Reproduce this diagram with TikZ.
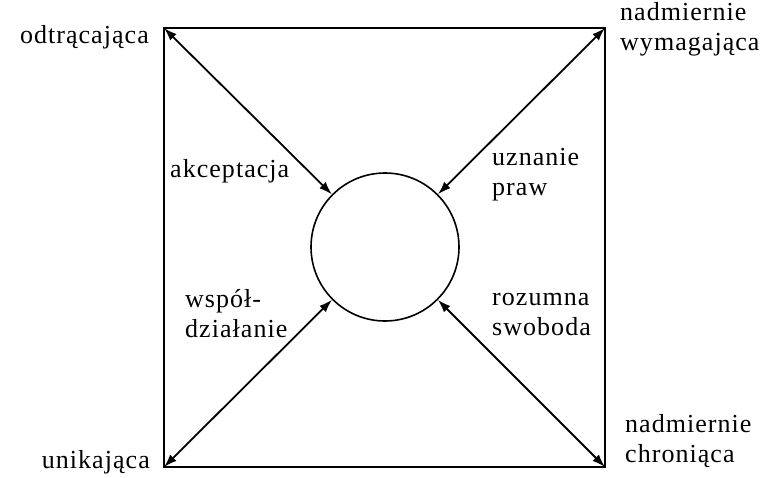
\documentclass[tikz,border=0pt]{standalone}
\usepackage{fontspec}
\setmainfont[LetterSpace=4]{Liberation Serif}
\usetikzlibrary{arrows.meta}
\tikzset{
  lbl/.style={inner sep=0pt, align=left, font=\fontsize{26}{30}\selectfont},
  frame/.style={line width=2.2pt},
  link/.style={line width=1.8pt, {Latex[length=13pt,width=9pt]}-{Latex[length=13pt,width=9pt]}},
  hub/.style={circle, draw, line width=1.6pt, minimum size=148pt, inner sep=0pt}
}
\begin{document}
\begin{tikzpicture}[x=1pt,y=-1pt]
\useasboundingbox (0,0) rectangle (763,477);
\coordinate (tl) at (164,28);
\coordinate (tr) at (605,28);
\coordinate (bl) at (164,467);
\coordinate (br) at (605,467);
\draw[frame] (tl) -- (tr) -- (br) -- (bl) -- cycle;
\node[hub] (c) at (385,247) {};
\draw[link] (tl) -- (c);
\draw[link] (tr) -- (c);
\draw[link] (bl) -- (c);
\draw[link] (br) -- (c);
\node[lbl, anchor=base east] (odt) at (149,43) {odtrącająca};
\node[lbl, anchor=base west] (nwym) at (620,50) {nadmiernie\\wymagająca};
\node[lbl, anchor=base west] (akc) at (170,177) {akceptacja};
\node[lbl, anchor=base west] (uzn) at (492,195) {uznanie\\praw};
\node[lbl, anchor=base west] (wsp) at (185,337) {współ-\\działanie};
\node[lbl, anchor=base west] (roz) at (492,335) {rozumna\\swoboda};
\node[lbl, anchor=base east] (unik) at (150,468) {unikająca};
\node[lbl, anchor=base west] (nchr) at (625,462) {nadmiernie\\chroniąca};
\end{tikzpicture}
\end{document}
